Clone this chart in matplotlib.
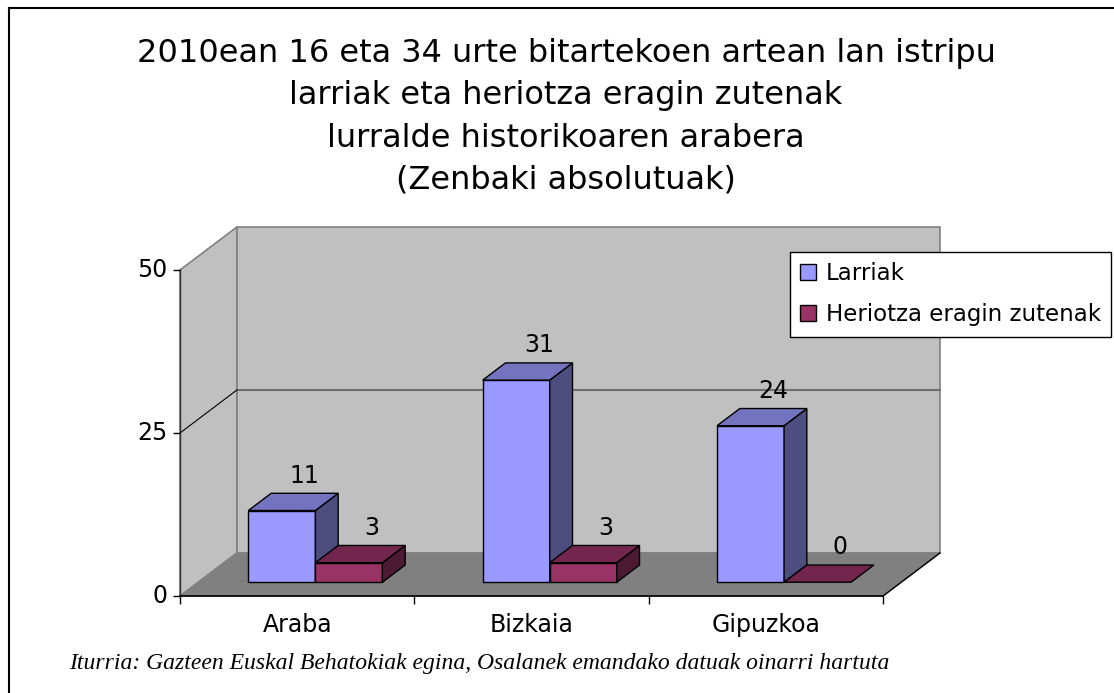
import matplotlib.pyplot as plt
from matplotlib.patches import Polygon, Patch
from matplotlib.lines import Line2D

# datos
regions = ['Araba', 'Bizkaia', 'Gipuzkoa']
larriak = [11, 31, 24]
heriotza = [3, 3, 0]
series_names = ['Larriak', 'Heriotza eragin zutenak']
yticks = [0, 25, 50]
title = ('2010ean 16 eta 34 urte bitartekoen artean lan istripu\n'
         'larriak eta heriotza eragin zutenak\n'
         'lurralde historikoaren arabera\n'
         '(Zenbaki absolutuak)')
source = 'Iturria: Gazteen Euskal Behatokiak egina, Osalanek emandako datuak oinarri hartuta'

# colores: (frente, arriba, lado)
col_larriak = ('#9999FF', '#7373BF', '#4D4D80')
col_heriotza = ('#993366', '#73264D', '#4D1A33')

W, H = 1114, 693
fig = plt.figure(figsize=(W / 100, H / 100), dpi=100)
fig.patch.set_facecolor('white')
ax = fig.add_axes([180 / W, 1 - 596 / H, 703 / W, 326 / H])
ax.set_xlim(0, 3)
ax.set_ylim(0, 50)
ax.axis('off')

DX = 0.243   # profundidad en unidades de categoria
DY = 6.6     # profundidad en unidades de valor
D0, D1 = 0.32, 0.72
BW = 0.286


def poly(pts, fc, ec, lw=1.0, z=1):
    ax.add_patch(Polygon(pts, closed=True, facecolor=fc, edgecolor=ec,
                         lw=lw, zorder=z, clip_on=False, joinstyle='miter'))


ymax = yticks[-1]
n = len(regions)
# paredes y suelo
poly([(0, 0), (0, ymax), (DX, ymax + DY), (DX, DY)], '#C0C0C0', '#808080', 1.2)
poly([(DX, DY), (DX, ymax + DY), (n + DX, ymax + DY), (n + DX, DY)], '#C0C0C0', '#808080', 1.2)
poly([(0, 0), (n, 0), (n + DX, DY), (DX, DY)], '#808080', '#808080', 1.0)
ax.plot([n, n + DX], [0, DY], color='black', lw=1.0, zorder=2, clip_on=False)

# lineas de division
for v in yticks[1:-1]:
    ax.plot([DX, n + DX], [v + DY, v + DY], color='#707070', lw=1.5, zorder=2, clip_on=False)
    ax.plot([0, DX], [v, v + DY], color='black', lw=0.8, zorder=2, clip_on=False)

# ejes
ax.plot([0, 0], [0, ymax], color='#303030', lw=1.0, zorder=2, clip_on=False)
ax.plot([0, n], [0, 0], color='black', lw=1.2, zorder=2, clip_on=False)
ax.plot([0] * len(yticks), yticks, linestyle='none', marker=0, ms=5, mew=1.0,
        color='black', clip_on=False, zorder=2)
ax.plot(range(n + 1), [0] * (n + 1), linestyle='none', marker=3, ms=6, mew=1.0,
        color='black', clip_on=False, zorder=2)
for v in yticks:
    ax.annotate(str(v), (0, v), xytext=(-9, 0), textcoords='offset points',
                ha='right', va='center', fontsize=17, annotation_clip=False)
for i, r in enumerate(regions):
    ax.annotate(r, (i + 0.5, 0), xytext=(0, -21), textcoords='offset points',
                ha='center', va='center', fontsize=17, annotation_clip=False)

# barras 3D
dd = D1 - D0
z = 3
for i in range(n):
    for s, (vals, cols) in enumerate([(larriak, col_larriak), (heriotza, col_heriotza)]):
        v = vals[i]
        x0 = i + 0.5 + (s - 1) * BW + D0 * DX
        y0 = D0 * DY
        x1 = x0 + BW
        yt = y0 + v
        if v > 0:
            poly([(x0, y0), (x1, y0), (x1, yt), (x0, yt)], cols[0], 'black', 1.0, z)
            poly([(x1, y0), (x1 + dd * DX, y0 + dd * DY), (x1 + dd * DX, yt + dd * DY), (x1, yt)],
                 cols[2], 'black', 1.0, z)
        poly([(x0, yt), (x1, yt), (x1 + dd * DX, yt + dd * DY), (x0 + dd * DX, yt + dd * DY)],
             cols[1], 'black', 1.0, z)
        z += 1
        ax.annotate(str(v), (x0 + BW / 2 + dd * DX, yt + dd * DY), xytext=(0, 4),
                    textcoords='offset points', ha='center', va='bottom',
                    fontsize=17, annotation_clip=False, zorder=20)

# leyenda
handles = [Patch(facecolor=col_larriak[0], edgecolor='black'),
           Patch(facecolor=col_heriotza[0], edgecolor='black')]
leg = fig.legend(handles, series_names, loc='upper left',
                 bbox_to_anchor=(790 / W, 1 - 252 / H), borderaxespad=0,
                 fontsize=16.5, frameon=True, fancybox=False, framealpha=1,
                 edgecolor='black', handlelength=0.7, handleheight=0.7,
                 handletextpad=0.4, labelspacing=0.78, borderpad=0.45)
leg.get_frame().set_linewidth(1.0)
leg.set_zorder(30)

# titulo y fuente
fig.text(566 / W, 1 - 38 / H, title, ha='center', va='top', fontsize=23,
         linespacing=1.47)
fig.text(69 / W, 1 - 664 / H, source, ha='left', va='center', fontsize=17,
         family='Liberation Serif', style='italic')

# marco
fig.add_artist(Line2D([8.5 / W, 8.5 / W], [0, 1 - 7.5 / H], transform=fig.transFigure,
                      color='black', lw=1.5))
fig.add_artist(Line2D([8.5 / W, 1], [1 - 7.5 / H, 1 - 7.5 / H], transform=fig.transFigure,
                      color='black', lw=1.5))

plt.savefig('out.png', dpi=100)
